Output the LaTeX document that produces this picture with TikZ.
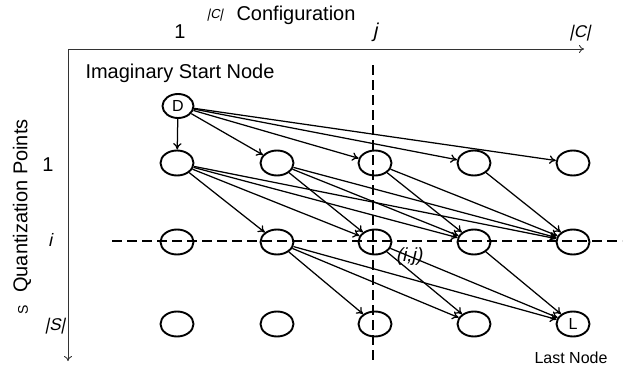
\documentclass[tikz,border=0pt]{standalone}
\usepackage{fontspec}
\setmainfont{Liberation Sans}
\newfontfamily\slantsf[FakeSlant=0.22]{Liberation Sans}
\usetikzlibrary{arrows.meta,shapes.geometric}
\begin{document}
\begin{tikzpicture}[x=1pt,y=-1pt,
  st/.style={ellipse,draw,line width=1.9pt,minimum width=33pt,minimum height=25pt,inner sep=0pt,font=\fontsize{16}{18}\selectfont},
  edge/.style={line width=1.25pt,-{To[length=6.5pt,width=8.5pt]}},
  axis/.style={line width=0.9pt,draw=black!80},
  guide/.style={line width=1.5pt,dash pattern=on 10pt off 5pt},
  lbl/.style={inner sep=0pt,font=\fontsize{20}{24}\selectfont},
  sl/.style={inner sep=0pt,font=\fontsize{#1}{20}\slantsf}
]
\useasboundingbox (0,0) rectangle (625,370);
% axes
\coordinate (o) at (68,49);
\coordinate (xe) at (584,49);
\coordinate (ye) at (68,361);
\draw[axis,{To[length=5pt,width=8pt]}-{To[length=5pt,width=8pt]}] (ye) -- (o) -- (xe);
% guides
\coordinate (vt) at (373,65);
\coordinate (vb) at (373,362);
\coordinate (hl) at (112,241);
\coordinate (hr) at (622,241);
\draw[guide] (vt) -- (vb);
\draw[guide] (hl) -- (hr);
% labels
\node[sl=13] (cc) at (215,15) {|C|};
\node[lbl] (conf) at (296,15) {Configuration};
\node[lbl] (c1) at (180,32) {1};
\node[sl=20] (cj) at (375,32) {j};
\node[sl=17] (cn) at (580,33) {|C|};
\node[lbl] (isn) at (180,73) {Imaginary Start Node};
\node[inner sep=0pt,rotate=90,font=\fontsize{14}{16}\selectfont] (sq) at (23,310) {S};
\node[lbl,rotate=90] (qp) at (22,206) {Quantization Points};
\node[lbl] (r1) at (48,165) {1};
\node[sl=18] (ri) at (50,240) {i};
\node[sl=17] (rs) at (55,326) {|S|};
\node[sl=19] (ij) at (409,257) {(i,j)};
\node[inner sep=0pt,font=\fontsize{16}{18}\selectfont] (ln) at (571,358) {Last Node};
% nodes
\node[st,minimum width=31pt,minimum height=24pt] (D) at (178,106) {D};
\foreach \c/\x in {1/177,2/277,3/375,4/474,5/573}{
  \node[st] (a\c) at (\x,163) {};
  \node[st] (b\c) at (\x,242) {};
}
\foreach \c/\x in {1/177,2/277,3/375,4/474}{
  \node[st] (s\c) at (\x,324) {};
}
\node[st] (s5) at (573,324) {L};
% edges
\foreach \m in {1,...,5}{ \draw[edge] (D) -- (a\m); }
\foreach \k/\ms in {1/{2,3,4,5},2/{3,4,5},3/{4,5},4/{5}}{
  \foreach \m in \ms { \draw[edge] (a\k) -- (b\m); }
}
\foreach \k/\ms in {2/{3,4,5},3/{4,5},4/{5}}{
  \foreach \m in \ms { \draw[edge] (b\k) -- (s\m); }
}
\end{tikzpicture}
\end{document}
